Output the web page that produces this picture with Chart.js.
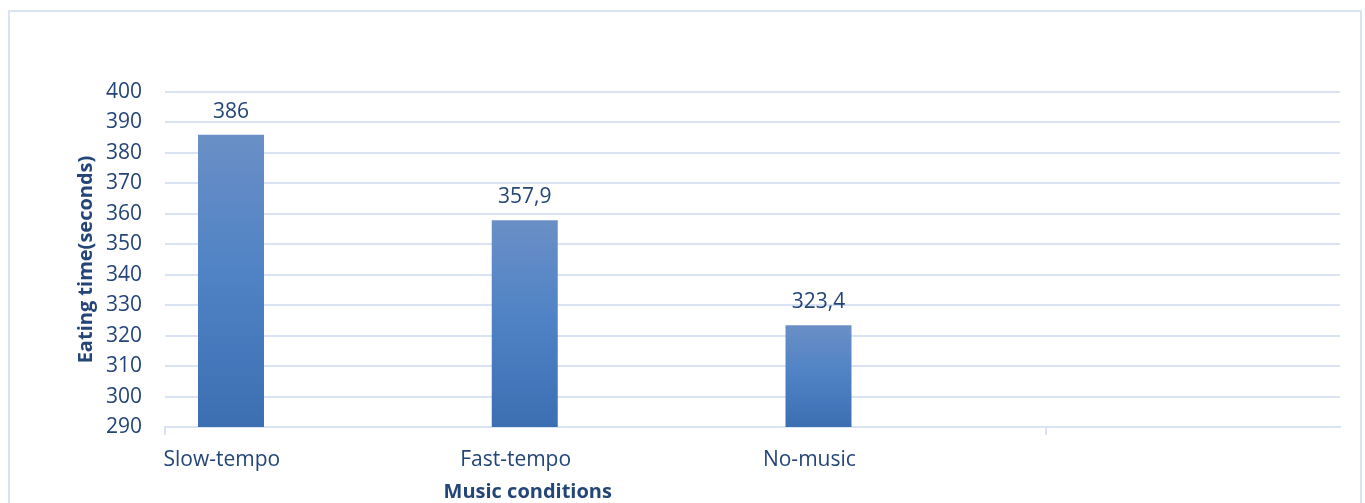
<!DOCTYPE html>
<html>
<head>
<meta charset="utf-8">
<script src="https://cdn.jsdelivr.net/npm/chart.js@4.4.1/dist/chart.umd.min.js"></script>
<style>
  html, body { margin: 0; padding: 0; background: #fff; }
  body { width: 1365px; height: 503px; overflow: hidden; position: relative; }
  #frame { position: absolute; left: 8px; top: 10px; width: 1350px; height: 600px; border: 2px solid #d9e3f3; }
  #wrap { position: absolute; left: 0; top: 0; width: 1365px; height: 503px; }
</style>
</head>
<body>
<div id="frame"></div>
<div id="wrap"><canvas id="c"></canvas></div>
<script>
/* Eating time by music condition: bars with gradient fill, values above bars */

const categories = ["Slow-tempo", "Fast-tempo", "No-music", ""];
const eatingTime = [386, 357.9, 323.4, null];
const emptySeries = [null, null, null, null]; // unused columns of the source sheet keep the bar slots
const yTicks = [290, 300, 310, 320, 330, 340, 350, 360, 370, 380, 390, 400];
const xTitle = "Music conditions";
const yTitle = "Eating time(seconds)";

const ink = "#244577";
const gridColor = "#d9e3f3";
const font = "'Open Sans', 'Noto Sans', sans-serif";

function fmt(v) {
  return String(v).replace(".", ",");
}

function barFill(ctx) {
  const chart = ctx.chart;
  const area = chart.chartArea;
  if (!area || ctx.raw == null) return "#4a7fc0";
  const top = chart.scales.y.getPixelForValue(ctx.raw);
  const g = chart.ctx.createLinearGradient(0, top, 0, area.bottom);
  g.addColorStop(0, "#6a8fc6");
  g.addColorStop(0.5, "#4e82c5");
  g.addColorStop(1, "#3c6eb2");
  return g;
}

// value labels above each bar
const valueLabels = {
  id: "valueLabels",
  afterDatasetsDraw(chart) {
    const ctx = chart.ctx;
    const meta = chart.getDatasetMeta(0);
    ctx.save();
    ctx.font = `21px ${font}`;
    ctx.fillStyle = ink;
    ctx.textAlign = "center";
    ctx.textBaseline = "alphabetic";
    meta.data.forEach((bar, i) => {
      const v = eatingTime[i];
      if (v == null) return;
      ctx.fillText(fmt(v), bar.x, bar.y - 17);
    });
    ctx.restore();
  },
};

// axis title under the middle bar, like the original sheet
const xTitlePlugin = {
  id: "xTitle",
  afterDraw(chart) {
    const ctx = chart.ctx;
    const bar = chart.getDatasetMeta(0).data[1];
    ctx.save();
    ctx.font = `bold 20px ${font}`;
    ctx.fillStyle = ink;
    ctx.textAlign = "center";
    ctx.textBaseline = "alphabetic";
    ctx.fillText(xTitle, bar.x + 3, 498);
    ctx.restore();
  },
};

new Chart(document.getElementById("c"), {
  type: "bar",
  data: {
    labels: categories,
    datasets: [
      { label: "Eating time", data: eatingTime, backgroundColor: barFill, categoryPercentage: 0.826, barPercentage: 0.816 },
      { label: "", data: emptySeries, categoryPercentage: 0.826, barPercentage: 0.816 },
      { label: "", data: emptySeries, categoryPercentage: 0.826, barPercentage: 0.816 },
    ],
  },
  options: {
    responsive: true,
    maintainAspectRatio: false,
    animation: false,
    layout: { padding: { left: 62, right: 25, top: 92, bottom: 0 } },
    plugins: {
      legend: { display: false },
      tooltip: { enabled: false },
    },
    scales: {
      x: {
        afterFit: (s) => { s.height = 76; },
        grid: {
          display: true,
          drawOnChartArea: false,
          drawTicks: true,
          tickLength: 8,
          lineWidth: 2,
          color: (c) => (c.index === 0 || c.index === 3 ? gridColor : "rgba(0,0,0,0)"),
        },
        border: { display: true, color: gridColor, width: 2 },
        ticks: { color: ink, font: { family: font, size: 21 }, padding: 12, labelOffset: -90, maxRotation: 0 },
      },
      y: {
        min: 290,
        max: 400,
        afterFit: (s) => { s.width = 103; },
        afterBuildTicks: (s) => { s.ticks = yTicks.map((v) => ({ value: v })); },
        grid: { color: gridColor, lineWidth: 2, drawTicks: false },
        border: { display: false },
        ticks: { color: ink, font: { family: font, size: 21 }, padding: 23 },
        title: { display: true, text: yTitle, color: ink, font: { family: font, size: 20, weight: "bold" }, padding: { top: 12, bottom: 0 } },
      },
    },
  },
  plugins: [valueLabels, xTitlePlugin],
});
</script>
</body>
</html>
